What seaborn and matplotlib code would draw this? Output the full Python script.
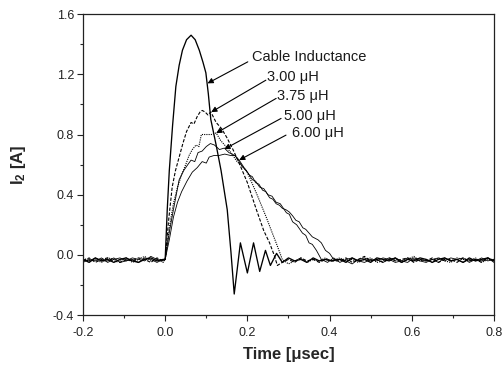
import numpy as np
import pandas as pd
import matplotlib
matplotlib.use("Agg")
import matplotlib.pyplot as plt
import seaborn as sns

# ---- data ----
t_pre = np.round(np.linspace(-0.2, -0.005, 14), 4)
t_post = np.round(np.linspace(0.425, 0.8, 26), 4)

# Solid, thick (arrow "Cable Inductance")
s_pre = [-0.03, -0.05, -0.02, -0.04, -0.03, -0.05, -0.03, -0.02, -0.04, -0.05, -0.03, -0.02, -0.04, -0.03]
s_t = [0.0, 0.005, 0.01, 0.018, 0.026, 0.034, 0.042, 0.052, 0.063, 0.073,
       0.083, 0.092, 0.099, 0.105, 0.111, 0.124, 0.136, 0.151, 0.16, 0.168,
       0.183, 0.2, 0.215, 0.23, 0.244, 0.256, 0.271, 0.285, 0.3, 0.315,
       0.33, 0.345, 0.36, 0.375, 0.39, 0.405]
s_y = [-0.03, 0.3, 0.56, 0.86, 1.12, 1.26, 1.36, 1.43, 1.46, 1.43,
       1.36, 1.28, 1.21, 1.07, 0.9, 0.73, 0.56, 0.30, 0.02, -0.26,
       0.08, -0.12, 0.08, -0.11, 0.03, -0.07, 0.01, -0.05, -0.02, -0.04,
       -0.03, -0.05, -0.02, -0.04, -0.03, -0.04]
s_post = [-0.03, -0.05, -0.02, -0.04, -0.03, -0.05, -0.02, -0.03, -0.04, -0.02, -0.05, -0.03, -0.04,
          -0.02, -0.03, -0.05, -0.03, -0.02, -0.04, -0.03, -0.05, -0.02, -0.04, -0.03, -0.02, -0.04]

# Dashed: 3.00 uH
d_pre = [-0.04, -0.02, -0.05, -0.03, -0.02, -0.04, -0.05, -0.03, -0.04, -0.02, -0.03, -0.05, -0.02, -0.04]
d_t = [0.0, 0.008, 0.017, 0.025, 0.034, 0.043, 0.052, 0.063, 0.07, 0.078,
       0.085, 0.09, 0.097, 0.104, 0.111, 0.124, 0.137, 0.15, 0.165, 0.18,
       0.2, 0.222, 0.24, 0.254, 0.265, 0.273, 0.285, 0.3, 0.315, 0.33,
       0.345, 0.36, 0.375, 0.39, 0.405]
d_y = [-0.03, 0.22, 0.45, 0.56, 0.65, 0.74, 0.82, 0.88, 0.87, 0.92,
       0.95, 0.96, 0.95, 0.93, 0.95, 0.88, 0.84, 0.78, 0.70, 0.61,
       0.48, 0.30, 0.16, 0.08, 0.0, -0.07, -0.05, -0.03, -0.05, -0.02,
       -0.04, -0.03, -0.05, -0.03, -0.04]
d_post = [-0.04, -0.02, -0.05, -0.03, -0.01, -0.04, -0.03, -0.05, -0.02, -0.04, -0.03, -0.02, -0.05,
          -0.03, -0.04, -0.02, -0.05, -0.03, -0.03, -0.05, -0.02, -0.04, -0.03, -0.05, -0.02, -0.04]

# Dotted: 3.75 uH
o_pre = [-0.02, -0.04, -0.03, -0.05, -0.02, -0.03, -0.04, -0.02, -0.05, -0.03, -0.01, -0.04, -0.03, -0.05]
o_t = [0.0, 0.01, 0.02, 0.03, 0.041, 0.05, 0.058, 0.066, 0.075, 0.082,
       0.088, 0.1, 0.112, 0.124, 0.135, 0.148, 0.16, 0.175, 0.198, 0.222,
       0.246, 0.26, 0.27, 0.285, 0.3, 0.315, 0.33, 0.345, 0.36, 0.375,
       0.39, 0.405]
o_y = [-0.03, 0.18, 0.34, 0.45, 0.54, 0.60, 0.66, 0.70, 0.73, 0.72,
       0.80, 0.80, 0.80, 0.81, 0.76, 0.72, 0.68, 0.62, 0.56, 0.41,
       0.25, 0.15, 0.08, -0.03, -0.06, -0.04, -0.02, -0.05, -0.03, -0.04,
       -0.02, -0.04]
o_post = [-0.02, -0.04, -0.03, -0.05, -0.03, -0.02, -0.05, -0.04, -0.02, -0.03, -0.05, -0.03, -0.01,
          -0.04, -0.03, -0.05, -0.02, -0.04, -0.05, -0.02, -0.03, -0.04, -0.02, -0.05, -0.03, -0.03]

# Thin solid: 5.00 uH
a_pre = [-0.05, -0.03, -0.04, -0.02, -0.05, -0.03, -0.02, -0.04, -0.03, -0.05, -0.02, -0.03, -0.05, -0.03]
a_t = [0.0, 0.01, 0.02, 0.034, 0.045, 0.055, 0.063, 0.072, 0.08, 0.09,
       0.1, 0.11, 0.12, 0.132, 0.144, 0.155, 0.17, 0.19, 0.2, 0.212,
       0.22, 0.23, 0.24, 0.25, 0.26, 0.27, 0.28, 0.295, 0.302, 0.31,
       0.32, 0.334, 0.342, 0.35, 0.358, 0.368, 0.38, 0.395, 0.41]
a_y = [-0.03, 0.15, 0.3, 0.5, 0.56, 0.60, 0.63, 0.62, 0.68, 0.69,
       0.72, 0.74, 0.73, 0.70, 0.71, 0.68, 0.66, 0.58, 0.55, 0.50,
       0.49, 0.45, 0.44, 0.40, 0.39, 0.35, 0.34, 0.28, 0.27, 0.22,
       0.20, 0.145, 0.13, 0.08, 0.07, 0.03, -0.03, -0.05, -0.02]
a_post = [-0.05, -0.03, -0.02, -0.04, -0.05, -0.03, -0.04, -0.02, -0.03, -0.05, -0.04, -0.02, -0.03,
          -0.04, -0.05, -0.03, -0.02, -0.04, -0.02, -0.03, -0.05, -0.03, -0.04, -0.02, -0.04, -0.03]

# Thin solid: 6.00 uH
b_pre = [-0.03, -0.04, -0.02, -0.04, -0.04, -0.02, -0.05, -0.04, -0.02, -0.03, -0.04, -0.01, -0.03, -0.04]
b_t = [0.0, 0.01, 0.02, 0.03, 0.04, 0.053, 0.066, 0.078, 0.09, 0.1,
       0.107, 0.118, 0.13, 0.145, 0.16, 0.17, 0.18, 0.192, 0.205, 0.212,
       0.22, 0.228, 0.237, 0.245, 0.254, 0.262, 0.27, 0.278, 0.285, 0.294,
       0.302, 0.31, 0.318, 0.326, 0.335, 0.342, 0.35, 0.358, 0.365, 0.372,
       0.38, 0.39, 0.40, 0.41]
b_y = [-0.03, 0.1, 0.25, 0.35, 0.42, 0.49, 0.55, 0.58, 0.62, 0.61,
       0.65, 0.66, 0.66, 0.67, 0.66, 0.66, 0.63, 0.58, 0.53, 0.52,
       0.48, 0.47, 0.43, 0.42, 0.38, 0.37, 0.34, 0.33, 0.31, 0.30,
       0.285, 0.26, 0.23, 0.22, 0.18, 0.17, 0.145, 0.12, 0.11, 0.10,
       0.08, 0.03, 0.01, -0.03]
b_post = [-0.03, -0.04, -0.06, -0.03, -0.02, -0.04, -0.03, -0.05, -0.03, -0.02, -0.04, -0.05, -0.02,
          -0.03, -0.04, -0.03, -0.05, -0.02, -0.04, -0.03, -0.02, -0.05, -0.03, -0.04, -0.02, -0.05]

labels = ["Cable Inductance", "3.00 μH", "3.75 μH", "5.00 μH", "6.00 μH"]
label_xy = [(0.212, 1.314), (0.248, 1.183), (0.272, 1.055), (0.288, 0.924), (0.309, 0.811)]
arrow_from = [(0.201, 1.283), (0.245, 1.161), (0.270, 1.040), (0.282, 0.907), (0.294, 0.796)]
arrow_to = [(0.103, 1.14), (0.112, 0.949), (0.124, 0.809), (0.144, 0.703), (0.180, 0.63)]

# ---- plotting ----
sns.set_style("ticks")
plt.rcParams['font.family'] = ['Liberation Sans', 'DejaVu Sans']
plt.rcParams['mathtext.fontset'] = 'custom'
plt.rcParams['mathtext.rm'] = 'Liberation Sans'
plt.rcParams['mathtext.bf'] = 'Liberation Sans:bold'

fig = plt.figure(figsize=(5.03, 3.72), dpi=100)
ax = fig.add_axes([0.165, 0.153, 0.817, 0.809])

series = [
    (s_pre, s_t, s_y, s_post, dict(color='black', lw=0.95, ls='-')),
    (d_pre, d_t, d_y, d_post, dict(color='black', lw=0.8, ls=(0, (3, 1.5)))),
    (o_pre, o_t, o_y, o_post, dict(color='black', lw=0.8, ls=(0, (1, 1)))),
    (a_pre, a_t, a_y, a_post, dict(color='black', lw=0.6, ls='-')),
    (b_pre, b_t, b_y, b_post, dict(color='black', lw=0.6, ls='-')),
]
for pre, pt, py, post, st in series:
    tt = np.concatenate([t_pre, pt, t_post])
    yy = np.concatenate([pre, py, post])
    df = pd.DataFrame({"t": tt, "y": yy})
    sns.lineplot(data=df, x="t", y="y", ax=ax, sort=False, estimator=None,
                 color=st['color'], linewidth=st['lw'], linestyle=st['ls'])

for lab, (lx, ly), fr, to in zip(labels, label_xy, arrow_from, arrow_to):
    ax.text(lx, ly, lab, fontsize=10.5, ha='left', va='center', color='#1a1a1a')
    ax.annotate("", xy=to, xytext=fr,
                arrowprops=dict(arrowstyle='-|>', color='black', lw=0.8,
                                mutation_scale=8, shrinkA=0, shrinkB=0))

ax.set_xlim(-0.2, 0.8)
ax.set_ylim(-0.4, 1.6)
ax.set_xticks([-0.2, 0.0, 0.2, 0.4, 0.6, 0.8])
ax.set_xticklabels(["-0.2", "0.0", "0.2", "0.4", "0.6", "0.8"])
ax.set_yticks([-0.4, 0.0, 0.4, 0.8, 1.2, 1.6])
ax.set_yticklabels(["-0.4", "0.0", "0.4", "0.8", "1.2", "1.6"])
ax.set_xticks([-0.1, 0.1, 0.3, 0.5, 0.7], minor=True)
ax.set_yticks([-0.2, 0.2, 0.6, 1.0, 1.4], minor=True)
ax.tick_params(axis='both', which='major', direction='out', length=4.5, width=0.8,
               labelsize=9, colors='#222222', pad=2)
ax.tick_params(axis='x', which='major', pad=4)
ax.tick_params(axis='both', which='minor', direction='out', length=2.5, width=0.8)
ax.tick_params(top=False, right=False)
for sp in ax.spines.values():
    sp.set_linewidth(0.9)
    sp.set_color('#222222')

ax.set_xlabel("Time [μsec]", fontsize=12, fontweight='bold', labelpad=6)
ax.set_ylabel(r"$\mathbf{I_2}$ [A]", fontsize=12, fontweight='bold', labelpad=18)

fig.savefig("out.png", dpi=100)
